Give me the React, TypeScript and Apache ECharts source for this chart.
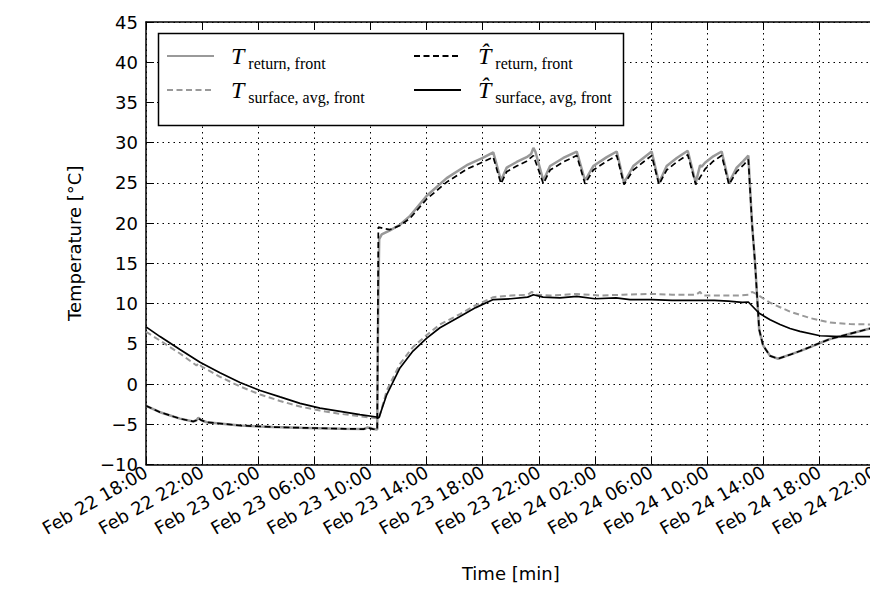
import React, { useEffect, useRef } from "react";
import * as echarts from "echarts";

// x values are hours after Feb 22 18:00
const START_DAY = 22;
const START_HOUR = 18;
const X_MAX = 52;
const X_STEP = 4;
const Y_MIN = -10;
const Y_MAX = 45;
const Y_STEP = 5;

const NAME_RET = "T_return,front";
const NAME_SURF = "T_surface,avg,front";
const NAME_RET_HAT = "That_return,front";
const NAME_SURF_HAT = "That_surface,avg,front";

// measured return temperature (grey solid)
const returnMeasured: number[][] = [
  [0, -2.7], [1.0, -3.5], [2.42, -4.3], [3.37, -4.65], [3.6, -4.5], [3.73, -4.2], [3.95, -4.5],
  [4.33, -4.75], [6.7, -5.15], [9.05, -5.35], [11.45, -5.45], [13.83, -5.55], [15.5, -5.6],
  [15.8, -5.4], [15.97, -5.45], [16.2, -5.6], [16.48, -5.65], [16.55, 10], [16.62, 18.0],
  [16.8, 18.6], [17.39, 19.1], [18.1, 19.8], [18.82, 20.9], [20.01, 23.4], [21.43, 25.6],
  [22.86, 27.2], [24.0, 28.1], [24.75, 28.8], [25.3, 25.3], [25.71, 26.9], [26.42, 27.6],
  [27.13, 28.2], [27.45, 28.6], [27.61, 29.35], [27.75, 28.9], [28.32, 25.3], [28.8, 27.1],
  [29.74, 28.1], [30.7, 28.9], [31.29, 25.3], [31.88, 27.1], [32.84, 28.2], [33.55, 28.9],
  [34.07, 25.0], [34.73, 27.1], [35.45, 28.1], [36.04, 28.9], [36.56, 25.0], [37.11, 27.1],
  [37.83, 28.1], [38.61, 29.0], [39.18, 25.0], [39.49, 27.2], [39.6, 27.0], [39.84, 27.5],
  [40.43, 28.3], [41.03, 28.9], [41.55, 25.0], [42.1, 26.9], [42.57, 27.7], [42.93, 28.4],
  [43.19, 20], [43.41, 15], [43.7, 6.8], [43.98, 4.8], [44.48, 3.5], [45.05, 3.15], [45.9, 3.65],
  [46.61, 4.1], [47.33, 4.6], [48.04, 5.1], [48.75, 5.6], [50.18, 6.25], [51.6, 6.9], [52, 7.05],
];

// modelled return temperature (black dashed)
const returnModel: number[][] = [
  [0, -2.7], [1.0, -3.5], [2.42, -4.3], [3.37, -4.65], [3.6, -4.5], [3.73, -4.25], [3.95, -4.5],
  [4.33, -4.75], [6.7, -5.15], [9.05, -5.35], [11.45, -5.45], [13.83, -5.55], [15.5, -5.6],
  [15.8, -5.45], [16.2, -5.6], [16.48, -5.65], [16.56, 19.5], [17.0, 19.3], [17.39, 19.2],
  [18.1, 19.7], [18.82, 20.6], [20.01, 23.0], [21.43, 25.1], [22.86, 26.7], [24.0, 27.6],
  [24.75, 28.2], [25.3, 24.9], [25.71, 26.4], [26.42, 27.1], [27.13, 27.7], [27.61, 28.4],
  [28.32, 24.9], [28.8, 26.6], [29.74, 27.6], [30.7, 28.4], [31.29, 24.9], [31.88, 26.6],
  [32.84, 27.7], [33.55, 28.4], [34.07, 24.8], [34.73, 26.6], [35.45, 27.6], [36.04, 28.4],
  [36.56, 24.8], [37.11, 26.6], [37.83, 27.6], [38.61, 28.5], [39.18, 24.8], [39.84, 26.7],
  [40.43, 27.7], [41.03, 28.4], [41.55, 24.8], [42.1, 26.4], [42.57, 27.2], [42.93, 27.9],
  [43.19, 20], [43.41, 15], [43.7, 6.8], [43.98, 4.8], [44.48, 3.5], [45.05, 3.15], [45.9, 3.65],
  [46.61, 4.1], [47.33, 4.6], [48.04, 5.1], [48.75, 5.6], [50.18, 6.25], [51.6, 6.9], [52, 7.05],
];

// measured average surface temperature (grey dashed)
const surfaceMeasured: number[][] = [
  [0, 6.5], [1.0, 5.4], [2.42, 3.8], [3.37, 2.6], [3.6, 2.3], [3.73, 2.6], [3.95, 2.2],
  [5.27, 0.9], [6.7, -0.3], [8.13, -1.3], [9.55, -2.1], [10.98, -2.8], [12.4, -3.3],
  [13.83, -3.7], [15.25, -4.0], [16.44, -4.25], [16.6, -4.3], [17.16, -0.8], [18.1, 2.5],
  [19.03, 4.6], [20.01, 6.1], [20.95, 7.4], [22.38, 8.7], [23.5, 9.8], [24.75, 10.8],
  [26.0, 11.0], [27.2, 11.1], [27.5, 11.45], [27.8, 11.1], [28.8, 11.0], [30.7, 11.2],
  [32.3, 11.0], [34.0, 11.1], [36.04, 11.2], [37.5, 11.1], [39.2, 11.1], [39.49, 11.45],
  [39.7, 11.0], [41.0, 11.0], [42.1, 11.0], [42.93, 11.1], [43.19, 11.45], [43.5, 11.2],
  [44.48, 10.1], [45.9, 9.0], [47.33, 8.2], [48.75, 7.65], [50.18, 7.45], [52, 7.4],
];

// modelled average surface temperature (black solid)
const surfaceModel: number[][] = [
  [0, 7.1], [1.0, 5.9], [2.42, 4.3], [3.85, 2.7], [5.27, 1.4], [6.7, 0.2], [8.13, -0.8],
  [9.55, -1.6], [10.98, -2.4], [12.4, -3.0], [13.83, -3.4], [15.25, -3.8], [16.44, -4.1],
  [16.6, -4.2], [17.16, -1.3], [18.1, 2.0], [19.03, 4.1], [20.01, 5.7], [20.95, 7.0],
  [22.38, 8.4], [23.5, 9.5], [24.75, 10.5], [26.0, 10.6], [27.2, 10.8], [27.61, 11.1],
  [28.3, 10.8], [29.5, 10.7], [30.7, 10.9], [32.0, 10.6], [33.5, 10.7], [34.5, 10.5],
  [36.04, 10.5], [37.5, 10.4], [39.0, 10.4], [40.5, 10.4], [41.5, 10.3], [42.5, 10.15],
  [42.93, 10.2], [43.7, 8.8], [44.48, 8.0], [45.19, 7.4], [45.9, 6.9], [46.61, 6.55],
  [48.04, 6.0], [49.5, 5.9], [52, 5.9],
];

const LEGEND_TEXT: Record<string, string> = {
  [NAME_RET]: "{t|T}{s|return, front}",
  [NAME_SURF]: "{t|T}{s|surface, avg, front}",
  [NAME_RET_HAT]: "{t|T\u0302}{s|return, front}",
  [NAME_SURF_HAT]: "{t|T\u0302}{s|surface, avg, front}",
};

const fmtX = (v: number) => {
  if (Math.abs(v % X_STEP) > 1e-9) return "";
  const tot = START_HOUR + v;
  const day = START_DAY + Math.floor(tot / 24);
  const hr = tot % 24;
  return `Feb ${day} ${String(hr).padStart(2, "0")}:00`;
};
const fmtY = (v: number) => (v < 0 ? "\u2212" + Math.abs(v) : String(v));

export default function App() {
  const ref = useRef<HTMLDivElement>(null);
  useEffect(() => {
    if (!ref.current) return;
    const chart = echarts.init(ref.current, null, { renderer: "svg" });
    const font = "'DejaVu Sans', sans-serif";
    const serif = "'Liberation Serif', 'DejaVu Serif', serif";
    const grid = { type: [1.5, 4], color: "#000", width: 1 };
    const legendCommon = {
      orient: "vertical" as const,
      padding: 0,
      itemWidth: 47,
      itemHeight: 12,
      itemGap: 7,
      selectedMode: false,
      itemStyle: { opacity: 0, color: "rgba(0,0,0,0)", borderWidth: 0 },
      formatter: (n: string) => LEGEND_TEXT[n],
      textStyle: {
        color: "#000",
        rich: {
          t: { fontFamily: serif, fontStyle: "italic", fontSize: 24, lineHeight: 30, verticalAlign: "middle", padding: [0, 4, 0, 12], color: "#000" },
          s: { fontFamily: serif, fontSize: 16, lineHeight: 19, verticalAlign: "bottom", color: "#000" },
        },
      },
    };
    chart.setOption({
      animation: false,
      backgroundColor: "#fff",
      grid: { left: 146, top: 22, right: 14.4, bottom: 124.5, show: false },
      xAxis: [
        {
          type: "value",
          min: 0,
          max: X_MAX,
          interval: X_STEP,
          name: "Time [min]",
          nameLocation: "middle",
          nameGap: 100,
          nameTextStyle: { fontFamily: font, fontSize: 18, color: "#000" },
          axisLine: { show: true, onZero: false, lineStyle: { color: "#000", width: 1.5 } },
          axisTick: { show: true, inside: true, length: 8, lineStyle: { color: "#000" } },
          axisLabel: { formatter: fmtX, rotate: 30, fontFamily: font, fontSize: 18, color: "#000", margin: 6 },
          splitLine: { show: true, lineStyle: grid },
        },
        {
          type: "value",
          position: "top",
          min: 0,
          max: X_MAX,
          interval: X_STEP,
          axisLine: { show: true, onZero: false, lineStyle: { color: "#000", width: 1.5 } },
          axisTick: { show: true, inside: true, length: 8, lineStyle: { color: "#000" } },
          axisLabel: { show: false },
          splitLine: { show: false },
        },
      ],
      yAxis: {
        type: "value",
        min: Y_MIN,
        max: Y_MAX,
        interval: Y_STEP,
        name: "Temperature [°C]",
        nameLocation: "middle",
        nameGap: 63,
        nameTextStyle: { fontFamily: font, fontSize: 18, color: "#000" },
        axisLine: { show: true, onZero: false, lineStyle: { color: "#000", width: 1.5 } },
        axisTick: { show: true, inside: true, length: 8, lineStyle: { color: "#000" } },
        axisLabel: { formatter: fmtY, fontFamily: font, fontSize: 18, color: "#000", margin: 8 },
        splitLine: { show: true, lineStyle: grid },
      },
      legend: [
        { ...legendCommon, left: 166, top: 44, data: [NAME_RET, NAME_SURF] },
        { ...legendCommon, left: 413, top: 44, data: [NAME_RET_HAT, NAME_SURF_HAT] },
      ],
      graphic: [
        {
          type: "rect",
          z: 3,
          shape: { x: 158.5, y: 33.5, width: 465, height: 92 },
          style: { fill: "#fff", stroke: "#000", lineWidth: 1.5 },
        },
      ],
      series: [
        {
          name: NAME_RET, type: "line", data: returnMeasured, symbol: "none",
          lineStyle: { color: "#999", width: 2.5 }, itemStyle: { color: "#999" },
        },
        {
          name: NAME_SURF, type: "line", data: surfaceMeasured, symbol: "none",
          lineStyle: { color: "#999", width: 2, type: [6, 3.5] }, itemStyle: { color: "#999" },
        },
        {
          name: NAME_RET_HAT, type: "line", data: returnModel, symbol: "none",
          lineStyle: { color: "#000", width: 1.7, type: [6, 3.5] }, itemStyle: { color: "#000" },
        },
        {
          name: NAME_SURF_HAT, type: "line", data: surfaceModel, symbol: "none",
          lineStyle: { color: "#000", width: 1.7 }, itemStyle: { color: "#000" },
        },
      ],
    });
    return () => chart.dispose();
  }, []);
  return (
    <div
      ref={ref}
      style={{ position: "fixed", left: 0, top: 0, width: 890, height: 589, background: "#fff" }}
    />
  );
}
